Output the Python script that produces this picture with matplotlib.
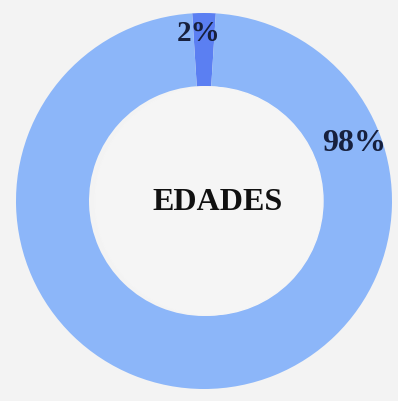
import numpy as np
import matplotlib.pyplot as plt

# data
labels = ['2%', '98%']
values = [2, 98]
colors = ['#5b7ff2', '#8cb6f9']
center_title = 'EDADES'

bg = '#f3f3f3'
W, H = 398, 401
cx, cy = 204, 200
r_out, r_in = 188, 115

fig = plt.figure(figsize=(W / 100, H / 100), dpi=100)
fig.patch.set_facecolor(bg)
ax = fig.add_axes([0, 0, 1, 1])
ax.set_facecolor(bg)

# small slice centred at the top
start = 90 - values[0] / sum(values) * 360 / 2
wedges, _ = ax.pie(values, colors=colors, startangle=start, counterclock=True,
                   radius=r_out, center=(cx, cy), frame=True,
                   wedgeprops=dict(width=r_out - r_in, edgecolor='none'))
ax.set_xlim(0, W)
ax.set_ylim(0, H)
ax.set_aspect('equal')
ax.axis('off')

# inner disc a bit lighter
ax.add_patch(plt.Circle((cx + 5, cy), r_in - 1, color='#f5f5f5', zorder=3))

serif = ['Liberation Serif', 'DejaVu Serif']
txt_col = '#17203d'

# percent labels
ang1, rad1 = np.deg2rad(92), 168
ax.text(cx + rad1 * np.cos(ang1), cy + rad1 * np.sin(ang1), labels[0],
        ha='center', va='center', fontsize=21, fontweight='bold',
        family=serif, color=txt_col, zorder=5)
ang2, rad2 = np.deg2rad(21), 161
ax.text(cx + rad2 * np.cos(ang2), cy + rad2 * np.sin(ang2), labels[1],
        ha='center', va='center', fontsize=23, fontweight='bold',
        family=serif, color=txt_col, zorder=5)

ax.text(cx + 14, cy - 2, center_title, ha='center', va='center',
        fontsize=23, fontweight='bold', family=serif, color='#111111', zorder=5)

fig.savefig('out.png', dpi=100, facecolor=bg)
